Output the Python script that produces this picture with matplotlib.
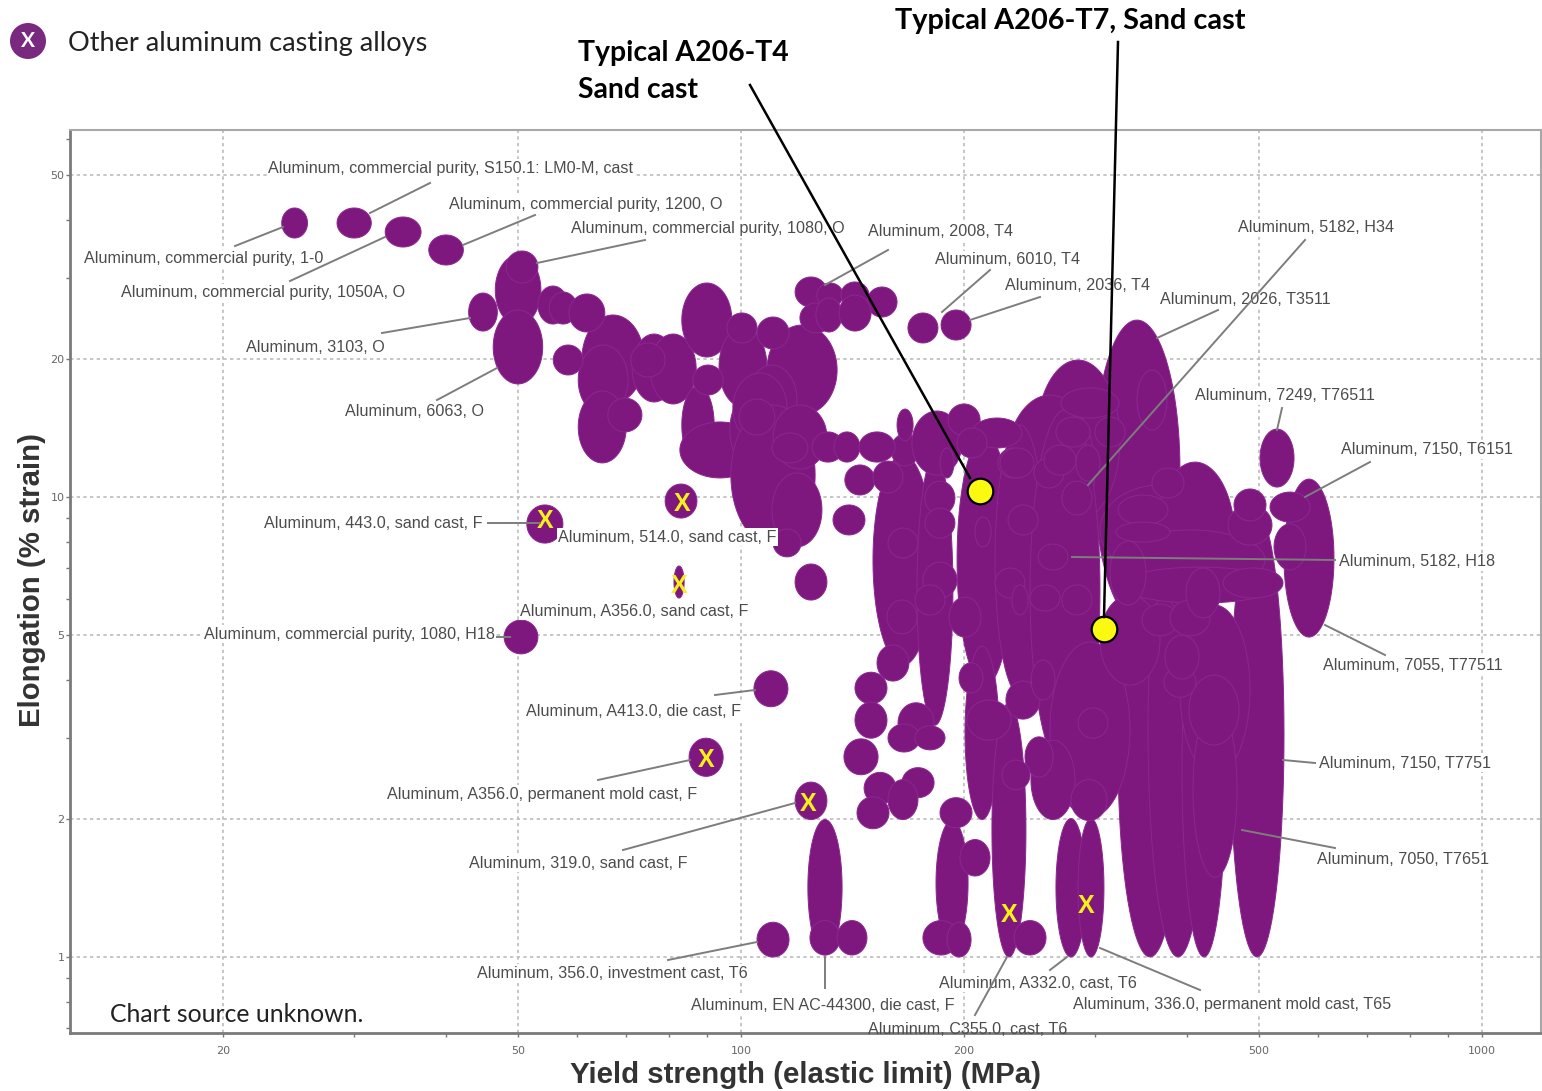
#!/usr/bin/python
# Yield strength vs elongation bubble chart for aluminum alloys
import numpy as np
import matplotlib
matplotlib.use('Agg')
import matplotlib.pyplot as plt
from matplotlib.lines import Line2D
from matplotlib.patches import Ellipse
from matplotlib.transforms import Affine2D
from matplotlib.ticker import FixedLocator, FixedFormatter, LogLocator, NullFormatter

# one bubble per alloy: range of yield strength (MPa) and elongation (%)
yield_lo = [457.0,322.7,354.2,393.7,299.5,250.1,227.1,305.1,362.0,540.5,319.7,324.7,454.2,150.7,159.4,172.8,195.7,220.2,245.5,200.6,
    218.1,261.2,246.2,266.1,285.0,123.1,183.3,391.2,407.4,305.1,46.6,46.3,61.0,60.3,60.3,71.3,75.4,83.2,83.2,82.7,
    96.6,93.4,108.4,101.9,97.5,96.9,110.5,110.1,170.1,24.0,28.5,33.1,
    37.9,48.2,42.9,53.2,55.1,58.6,55.8,66.1,71.0,95.7,105.1,86.1,99.4,110.1,124.7,133.5,144.3,138.1,
    133.1,150.7,162.4,118.3,126.6,136.4,147.9,120.1,126.2,135.6,168.0,186.2,190.3,205.0,270.3,266.1,300.4,342.3,222.2,195.7,
    185.6,177.1,177.1,157.9,157.4,176.0,171.7,190.9,206.9,229.3,248.5,223.6,271.1,256.4,
    283.2,251.7,220.2,232.1,245.5,271.1,314.8,322.7,320.7,358.6,462.7,517.5,501.7,524.0,347.7,379.3,398.6,447.2,402.3,372.3,
    373.4,51.4,79.0,81.2,110.5,118.3,47.9,104.1,85.1,118.3,142.5,142.5,137.7,152.6,162.9,157.9,171.7,164.9,146.6,157.9,
    143.4,105.1,123.9,134.8,176.0,189.7,185.6,197.5,233.6,201.8,196.9,227.8,241.7,225.0,278.8,285.0,246.3]
yield_hi = [540.5,393.7,426.8,451.4,391.2,324.7,300.4,443.0,464.2,631.3,509.5,533.8,520.7,181.6,173.9,193.2,232.8,257.2,305.1,222.9,
    242.4,334.9,282.3,292.1,308.9,136.9,202.5,486.3,467.1,367.7,53.7,54.0,74.0,70.4,70.0,81.7,87.0,97.2,92.0,106.1,
    112.9,108.4,134.8,119.0,115.4,125.9,130.6,128.6,198.7,26.0,31.7,37.0,
    42.2,53.2,46.9,58.4,60.1,65.5,61.2,73.5,79.0,105.1,116.1,94.6,111.1,123.1,137.7,144.7,161.4,151.6,
    147.0,165.4,170.7,130.6,137.3,148.8,162.4,132.7,136.9,149.8,184.4,204.4,210.2,239.5,323.7,295.8,329.8,375.7,244.0,214.8,
    193.8,194.4,194.4,173.3,172.8,195.7,188.5,210.8,217.5,251.7,272.8,248.5,297.6,283.2,
    305.1,276.2,241.7,244.0,269.5,297.6,352.0,376.9,379.3,396.1,511.1,586.0,557.6,578.7,388.8,429.5,443.0,538.8,470.0,411.2,
    415.0,57.5,87.2,83.8,120.5,130.6,53.2,115.7,94.6,130.6,157.4,157.4,153.1,168.5,182.2,174.4,188.5,182.2,161.9,173.3,
    158.4,116.1,136.0,147.9,196.9,204.4,205.0,216.8,258.0,231.4,212.1,253.2,263.7,245.5,311.8,312.8,265.3]
elong_lo = [1.00,1.00,1.00,1.00,5.40,8.91,7.86,6.77,5.46,4.96,6.28,5.88,7.86,4.31,11.68,3.19,3.90,3.71,2.55,1.99,
    1.00,2.01,1.99,1.00,1.00,1.01,1.06,2.49,1.49,3.90,23.65,17.61,16.01,15.08,11.86,16.09,15.93,20.15,11.80,11.00,
    11.45,15.69,15.08,13.64,13.10,7.86,11.50,7.79,11.16,36.56,36.56,34.95,
    31.94,29.19,22.95,23.77,23.77,22.84,18.42,13.85,18.23,21.62,20.98,16.66,13.64,11.86,11.91,11.91,11.91,10.10,
    8.27,10.20,13.24,25.88,25.88,25.76,24.62,22.73,22.84,22.95,21.62,21.94,13.57,12.78,14.85,12.84,12.84,13.98,11.00,12.16,
    11.00,9.14,8.14,7.37,5.04,6.03,5.54,4.96,7.79,8.27,10.46,11.00,9.14,11.16,
    10.83,6.94,6.03,5.54,5.65,5.54,5.82,8.69,7.98,9.95,8.87,8.82,10.51,6.94,4.99,4.99,5.46,6.03,2.89,3.67,
    4.02,7.94,9.00,6.03,7.41,5.97,4.56,3.50,2.47,1.99,3.55,2.99,2.49,3.98,2.92,2.79,2.82,2.22,2.15,1.99,
    1.90,1.00,1.01,1.01,1.01,1.00,1.91,1.50,1.01,2.96,3.75,3.29,2.46,2.31,1.98,2.99,3.62]
elong_hi = [9.23,7.56,9.70,6.50,24.25,19.85,16.66,10.62,11.91,10.94,8.48,7.04,9.61,12.34,13.71,12.34,13.64,14.34,15.46,4.74,
    3.57,4.84,2.96,2.00,2.00,1.99,1.98,5.82,3.58,6.12,33.58,25.50,24.87,21.40,17.00,22.61,22.61,29.19,17.43,14.56,
    17.08,23.42,23.65,19.36,18.60,15.85,15.85,11.28,15.38,42.49,42.49,40.62,
    37.12,34.26,27.76,28.75,27.90,27.63,21.40,16.41,21.62,25.12,24.62,19.36,16.33,13.78,13.85,13.85,13.85,11.74,
    9.61,11.97,15.53,30.08,29.19,29.34,28.61,26.41,27.08,27.49,25.12,25.50,15.93,14.85,17.26,14.92,14.92,18.88,12.78,14.13,
    12.78,10.83,9.46,8.56,5.97,7.22,6.44,6.06,9.05,9.61,12.16,12.78,10.83,12.97,
    12.97,7.90,7.01,6.44,6.44,6.44,8.02,10.10,8.82,11.56,10.41,10.25,14.05,8.74,5.85,5.97,7.01,7.01,4.10,4.27,
    5.01,9.61,10.67,7.08,8.52,7.15,5.40,4.19,2.99,2.40,4.16,3.58,2.98,4.77,3.57,3.21,3.18,2.58,2.52,2.43,
    2.23,1.19,1.20,1.20,1.20,1.19,2.22,1.80,1.20,3.62,4.36,3.98,3.01,2.68,2.43,3.48,4.42]

# casting alloys marked with an X
other_yield = [54.4, 83.2, 82.5, 89.7, 123.1, 230.0, 292.1]
other_elong = [8.96, 9.8, 6.5, 2.72, 2.18, 1.25, 1.31]

# the two A206 tempers
typical_yield = [210.2, 308.9]
typical_elong = [10.3, 5.16]

xticks = [20, 50, 100, 200, 500, 1000]
yticks = [1, 2, 5, 10, 20, 50]

label_names = [
    'Aluminum, commercial purity, S150.1: LM0-M, cast', 'Aluminum, commercial purity, 1200, O',
    'Aluminum, commercial purity, 1080, O', 'Aluminum, 2008, T4', 'Aluminum, 6010, T4', 'Aluminum, 2036, T4',
    'Aluminum, 5182, H34', 'Aluminum, 2026, T3511', 'Aluminum, 7249, T76511', 'Aluminum, 7150, T6151',
    'Aluminum, 5182, H18', 'Aluminum, 7055, T77511', 'Aluminum, 7150, T7751', 'Aluminum, 7050, T7651',
    'Aluminum, commercial purity, 1-0', 'Aluminum, commercial purity, 1050A, O', 'Aluminum, 3103, O', 'Aluminum, 6063, O',
    'Aluminum, 443.0, sand cast, F', 'Aluminum, 514.0, sand cast, F', 'Aluminum, A356.0, sand cast, F',
    'Aluminum, commercial purity, 1080, H18', 'Aluminum, A413.0, die cast, F', 'Aluminum, A356.0, permanent mold cast, F',
    'Aluminum, 319.0, sand cast, F', 'Aluminum, 356.0, investment cast, T6', 'Aluminum, EN AC-44300, die cast, F',
    'Aluminum, A332.0, cast, T6', 'Aluminum, 336.0, permanent mold cast, T65', 'Aluminum, C355.0, cast, T6',
]

# layout, in picture pixels
W, H = 1542, 1091
label_left = [268, 449, 571, 868, 935, 1005, 1238, 1160, 1195, 1341, 1339, 1323, 1319, 1317,
              84, 121, 246, 345, 264, 558, 520, 204, 526, 387, 469, 477, 691, 939, 1073, 868]
label_mid = [168, 204, 229, 231, 260, 285, 228, 300, 396, 450, 562, 665, 763, 860,
             259, 293, 347, 412, 523, 537, 611, 634, 711, 794, 863, 973, 1005, 983, 1005, 1029]
leaders = [
    (430, 183, 370, 213), (535, 215, 463, 245), (645, 240, 537, 263), (888, 250, 825, 285), (990, 270, 942, 312),
    (1040, 297, 970, 320), (1305, 240, 1088, 485), (1218, 310, 1157, 338), (1282, 408, 1277, 430), (1370, 462, 1305, 497),
    (1335, 560, 1072, 557), (1385, 655, 1325, 625), (1315, 763, 1283, 760), (1335, 848, 1242, 830),
    (235, 246, 283, 227), (290, 281, 385, 237), (382, 333, 470, 318), (437, 400, 497, 368), (488, 523, 540, 523),
    (497, 637, 510, 637), (715, 695, 755, 690), (598, 780, 690, 760), (623, 850, 795, 803), (668, 960, 757, 942),
    (825, 988, 825, 957), (1050, 970, 1067, 957), (1200, 990, 1100, 948), (975, 1015, 1007, 957),
]

fx = lambda p: 10 ** (1 + p / 741)
fy = lambda p: 10 ** ((957 - p) / 460)
px = Affine2D().scale(1, -1).translate(0, H)

PURPLE = '#7e187e'
fig = plt.figure(figsize=(W / 100, H / 100), dpi=100)
ax = fig.add_axes([70 / W, 1 - 1033 / H, 1471 / W, 903 / H])
ax.set_xscale('log')
ax.set_yscale('log')
ax.set_xlim(fx(70), fx(1541))
ax.set_ylim(fy(1033), fy(130))

t = np.linspace(0, 2 * np.pi, 90)
for a, b, c, d in zip(yield_lo, yield_hi, elong_lo, elong_hi):
    lx = np.log10([a, b])
    ly = np.log10([c, d])
    xs = 10 ** (lx.mean() + (lx[1] - lx[0]) / 2 * np.cos(t))
    ys = 10 ** (ly.mean() + (ly[1] - ly[0]) / 2 * np.sin(t))
    ax.fill(xs, ys, facecolor=PURPLE, edgecolor='#8a2790', lw=0.7, zorder=2)

for x, y in zip(other_yield, other_elong):
    ax.text(x, y, 'X', color='#f6f01a', fontsize=18, fontweight='bold', family='Liberation Sans',
            ha='center', va='center_baseline', zorder=4)
ax.scatter(typical_yield, typical_elong, s=340, color='#fbf90f', edgecolor='black', linewidth=1.6, zorder=5)

ax.xaxis.set_major_locator(FixedLocator(xticks))
ax.xaxis.set_major_formatter(FixedFormatter([str(v) for v in xticks]))
ax.yaxis.set_major_locator(FixedLocator(yticks))
ax.yaxis.set_major_formatter(FixedFormatter([str(v) for v in yticks]))
for axis in (ax.xaxis, ax.yaxis):
    axis.set_minor_locator(LogLocator(base=10, subs=range(2, 10)))
    axis.set_minor_formatter(NullFormatter())
ax.tick_params(which='both', length=3, width=1, color='#777777', labelcolor='#666666', labelsize=8)
ax.tick_params(axis='x', which='both', pad=6)
ax.tick_params(axis='y', which='both', pad=1)
ax.grid(which='major', color='#bcbcbc', lw=1.2, ls=(0, (2, 2)))
ax.set_axisbelow(True)
for side in ('left', 'bottom'):
    ax.spines[side].set_color('#7a7a7a')
    ax.spines[side].set_linewidth(2)
for side in ('top', 'right'):
    ax.spines[side].set_color('#a8a8a8')
    ax.spines[side].set_linewidth(1.5)

for name, x, y in zip(label_names, label_left, label_mid):
    box = None if 'C355' in name else dict(facecolor='white', edgecolor='none', pad=1)
    fig.text(x, y, name, transform=px, ha='left', va='center', family='Liberation Sans',
             fontsize=11.6, color='#4c4c4c', bbox=box, zorder=3)
for x0, y0, x1, y1 in leaders:
    fig.add_artist(Line2D([x0, x1], [y0, y1], transform=px, color='#7d7d7d', lw=1.4, zorder=4))

# callouts
for x0, y0, x1, y1 in [(750, 85, 970, 478), (1118, 42, 1104, 617)]:
    fig.add_artist(Line2D([x0, x1], [y0, y1], transform=px, color='black', lw=1.8, zorder=5))
fig.text(578, 53, 'Typical A206-T4', transform=px, family='Lato', fontweight='bold', fontsize=20.4, va='center', color='black')
fig.text(578, 90, 'Sand cast', transform=px, family='Lato', fontweight='bold', fontsize=20.4, va='center', color='black')
fig.text(895, 21, 'Typical A206-T7, Sand cast', transform=px, family='Lato', fontweight='bold', fontsize=20.8, va='center', color='black')

fig.text(68, 43, 'Other aluminum casting alloys', transform=px, family='Lato', fontsize=19.5, va='center', color='#222222')
fig.add_artist(Ellipse((28, 41), 36, 36, transform=px, facecolor='#7a2a7e', edgecolor='none'))
fig.text(28, 41, 'X', transform=px, family='Lato', fontweight='bold', fontsize=15, color='white', ha='center', va='center', zorder=6)
fig.text(110, 1015, 'Chart source unknown.', transform=px, family='Lato', fontsize=17.8, va='center', color='#222222')

fig.text(805, 1075, 'Yield strength (elastic limit) (MPa)', transform=px, family='Liberation Sans', fontweight='bold',
         fontsize=21.2, ha='center', va='center', color='#333333')
fig.text(32, 580, 'Elongation (% strain)', transform=px, family='Liberation Sans', fontweight='bold', fontsize=21.2,
         rotation=90, ha='center', va='center', color='#333333')

fig.savefig('out.png', dpi=100)
